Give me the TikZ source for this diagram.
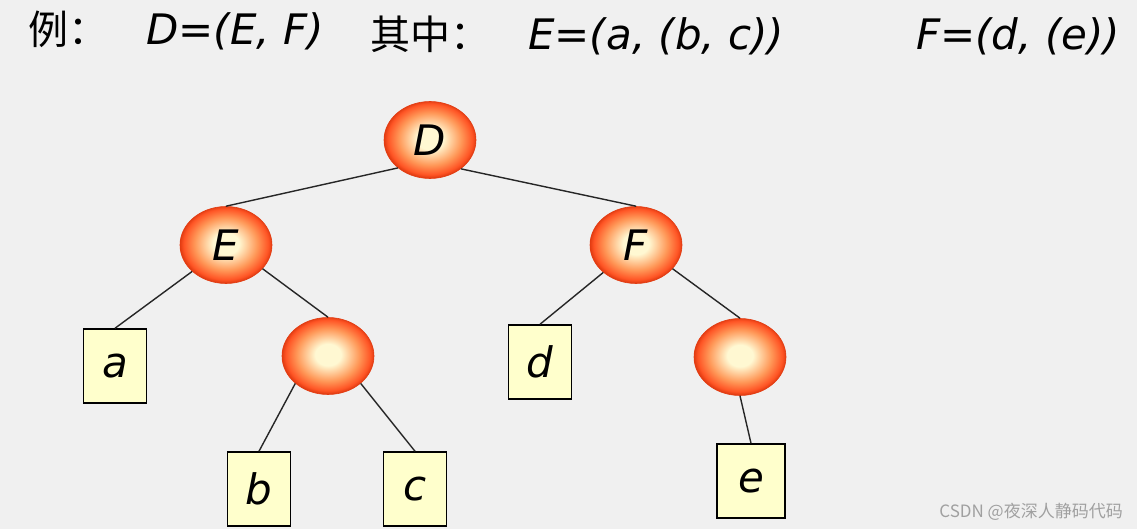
\documentclass[tikz,border=0pt]{standalone}
\usepackage{fontspec}
\setmainfont{DejaVu Sans}
\newfontfamily\cjkfont{Noto Sans CJK SC}
\usetikzlibrary{shapes.geometric}
\definecolor{bg}{HTML}{F0F0F0}
\definecolor{ctr}{HTML}{FFF8D2}
\definecolor{midc}{HTML}{FF9858}
\definecolor{rimc}{HTML}{FF5525}
\definecolor{rimd}{HTML}{E23C12}
\definecolor{boxfill}{HTML}{FFFFCC}
\definecolor{wm}{HTML}{A0A0A0}
\pgfdeclareradialshading{nodeball}{\pgfpoint{0bp}{1bp}}{color(0bp)=(ctr); color(7bp)=(ctr); color(17bp)=(midc); color(23bp)=(rimc); color(25bp)=(rimd); color(50bp)=(rimd)}
\tikzset{
  ball/.style={ellipse, minimum width=92pt, minimum height=77pt, inner sep=0pt, shading=nodeball, draw=rimd, line width=0.6pt, font=\fontsize{42}{46}\selectfont\itshape},
  leaf/.style={rectangle, minimum width=63pt, minimum height=74pt, inner sep=0pt, fill=boxfill, draw=black, line width=1.5pt, font=\fontsize{42}{46}\selectfont\itshape},
  edge/.style={draw=black!85, line width=1.4pt},
  head/.style={anchor=base west, inner sep=0pt, font=\fontsize{42}{46}\selectfont\itshape},
  headcjk/.style={anchor=base west, inner sep=0pt, font=\fontsize{40}{44}\selectfont\cjkfont}
}
\begin{document}
\begin{tikzpicture}[x=1pt,y=-1pt]
\useasboundingbox (0,0) rectangle (1137,529);
\fill[bg] (0,0) rectangle (1137,529);
% heading
\node[headcjk] (h1) at (28,45) {例：};
\node[head] (h2) at (146,45) {D=(E, F)};
\node[headcjk] (h3) at (370,50) {其中：};
\node[head] (h4) at (528,50) {E=(a, (b, c))};
\node[head] (h5) at (916,50) {F=(d, (e))};
% nodes
\node[ball] (D) at (430,140) {D};
\node[ball] (E) at (226,245) {E};
\node[ball] (F) at (636,245) {F};
\node[ball] (U1) at (328,356) {};
\node[ball] (U2) at (740,357) {};
\node[leaf] (a) at (115,366) {a};
\node[leaf] (b) at (259,489) {b};
\node[leaf] (c) at (415,489) {c};
\node[leaf] (d) at (540,362) {d};
\node[leaf, minimum width=68pt] (e) at (751,481) {e};
% edges
\draw[edge] (D.221) -- (E.north);
\draw[edge] (D.317) -- (F.north);
\draw[edge] (E.218) -- (a.north);
\draw[edge] (E.327) -- (U1.north);
\draw[edge] (U1.220) -- (b.north);
\draw[edge] (U1.320) -- (c.north);
\draw[edge] (F.220) -- (d.north);
\draw[edge] (F.327) -- (U2.north);
\draw[edge] (U2.south) -- (e.north);
% watermark
\node[anchor=base east, inner sep=0pt, text=wm, font=\fontsize{17}{20}\selectfont\cjkfont] (wm) at (1123,517) {CSDN @夜深人静码代码};
\end{tikzpicture}
\end{document}
